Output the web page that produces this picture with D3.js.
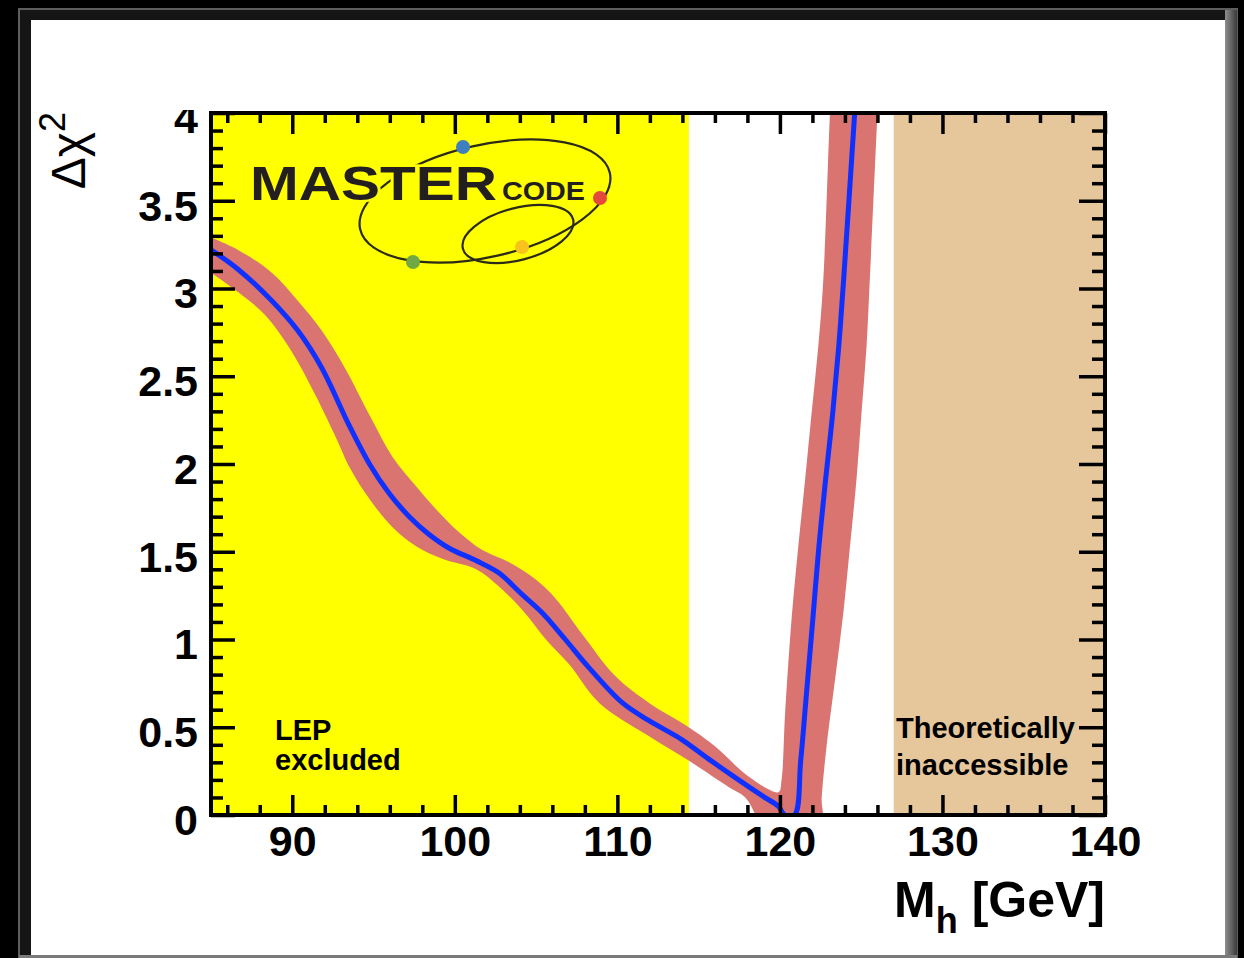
<!DOCTYPE html>
<html>
<head>
<meta charset="utf-8">
<script src="https://cdn.jsdelivr.net/npm/d3@7"></script>
<style>
  html, body { margin: 0; padding: 0; background: #000; }
  svg { display: block; }
  text { font-family: "Liberation Sans", Arial, Helvetica, sans-serif; }
</style>
</head>
<body>
<svg id="chart" width="1244" height="958"></svg>
<script>
/* global d3 */

// ---- data ----
var xTickValues = [90, 100, 110, 120, 130, 140];
var yTickValues = [0, 0.5, 1, 1.5, 2, 2.5, 3, 3.5, 4];

// shaded regions (GeV)
var regionNames = ['LEP excluded', 'Theoretically inaccessible'];
var regionFrom = [85, 127];
var regionTo = [114.4, 140];

// best fit curve: delta chi^2 vs M_h
var curveMass = [85.0, 86.66, 88.74, 90.34, 91.8, 93.5, 94.75, 95.98, 97.2, 98.4, 99.66, 101.3,
  102.7, 104.1, 105.4, 106.8, 108.25, 110.3, 111.9, 113.96, 115.6, 117.3, 118.9, 119.9, 120.3,
  120.9, 121.28, 121.65, 122.02, 122.38, 122.81, 123.25, 123.62, 123.92, 124.6, 124.67];
var curveChi2 = [3.22, 3.11, 2.93, 2.76, 2.55, 2.22, 2.0, 1.83, 1.70, 1.60, 1.52, 1.45,
  1.38, 1.26, 1.15, 1.0, 0.84, 0.64, 0.54, 0.43, 0.32, 0.21, 0.11, 0.05, 0.0,
  0.0, 0.31, 0.71, 1.11, 1.51, 1.91, 2.29, 2.67, 3.05, 4.0, 4.1];

// theory band, upper/left boundary
var bandUpperMass = [85.0, 86.66, 88.74, 90.34, 91.81, 93.22, 94.8, 96.17, 97.64, 98.87, 100.28,
  101.69, 103.34, 105.0, 106.23, 107.84, 109.89, 111.93, 114.39, 116.02, 118.07, 119.91,
  120.1, 120.32, 120.72, 121.13, 121.55, 121.95, 122.36, 122.67, 123.08, 123.2];
var bandUpperChi2 = [3.29, 3.22, 3.09, 2.93, 2.76, 2.55, 2.27, 2.04, 1.87, 1.74, 1.61,
  1.51, 1.44, 1.34, 1.23, 1.03, 0.79, 0.64, 0.50, 0.39, 0.22, 0.13,
  0.20, 0.58, 1.12, 1.53, 1.91, 2.29, 2.67, 3.05, 4.0, 4.2];

// theory band, lower/right boundary
var bandLowerMass = [85.0, 86.66, 88.31, 89.97, 91.38, 92.79, 93.53, 94.75, 96.17, 97.64, 99.23,
  101.32, 102.73, 104.14, 105.7, 107.02, 108.87, 111.93, 114.39, 116.84, 117.87, 118.48, 118.6,
  122.5, 122.57, 122.87, 123.39, 123.9, 124.31, 124.71, 125.02, 125.33, 125.53, 126.0, 126.1];
var bandLowerChi2 = [3.09, 2.98, 2.85, 2.64, 2.40, 2.13, 1.98, 1.80, 1.64, 1.53, 1.46,
  1.40, 1.30, 1.17, 0.99, 0.86, 0.64, 0.45, 0.31, 0.16, 0.10, 0.0, -0.05,
  -0.05, 0.10, 0.39, 0.77, 1.15, 1.53, 1.91, 2.29, 2.67, 3.05, 4.0, 4.2];

// ---- layout ----
var plot = { left: 211, top: 113, right: 1105, bottom: 815 };

var svg = d3.select('#chart');
var defs = svg.append('defs');

// 外枠（黒地にグレーの縁取り）
var grad = defs.append('linearGradient').attr('id', 'edgeGrad')
  .attr('x1', '0').attr('x2', '1').attr('y1', '0').attr('y2', '0');
grad.append('stop').attr('offset', '0').attr('stop-color', '#8e8e8e');
grad.append('stop').attr('offset', '1').attr('stop-color', '#3a3a3a');

svg.append('rect').attr('width', 1244).attr('height', 958).attr('fill', '#000');
svg.append('rect').attr('x', 19).attr('y', 9).attr('width', 1218).attr('height', 962)
  .attr('fill', '#151515').attr('stroke', '#5e5e5e').attr('stroke-width', 2);
svg.append('rect').attr('x', 1225).attr('y', 10).attr('width', 12).attr('height', 948)
  .attr('fill', 'url(#edgeGrad)');
svg.append('rect').attr('x', 31).attr('y', 20).attr('width', 1194).attr('height', 935)
  .attr('fill', '#fff');
svg.append('rect').attr('x', 19).attr('y', 955).attr('width', 1218).attr('height', 3)
  .attr('fill', '#7a7a7a');

var x = d3.scaleLinear().domain([85, 140]).range([plot.left, plot.right]);
var y = d3.scaleLinear().domain([0, 4]).range([plot.bottom, plot.top]);

defs.append('clipPath').attr('id', 'plotClip').append('rect')
  .attr('x', plot.left).attr('y', plot.top)
  .attr('width', plot.right - plot.left).attr('height', plot.bottom - plot.top);

// regions
var regionColors = ['#ffff00', '#e5c79b'];
svg.append('g').selectAll('rect')
  .data(regionNames)
  .enter()
  .append('rect')
  .attr('x', function(d, i) { return x(regionFrom[i]); })
  .attr('y', plot.top)
  .attr('width', function(d, i) { return x(regionTo[i]) - x(regionFrom[i]); })
  .attr('height', plot.bottom - plot.top)
  .attr('fill', function(d, i) { return regionColors[i]; });

// mastercode logo
var logo = svg.append('g');
logo.append('ellipse').attr('cx', 485).attr('cy', 201).attr('rx', 128).attr('ry', 56)
  .attr('transform', 'rotate(-12.8,485,201)')
  .attr('fill', 'none').attr('stroke', '#2b2a18').attr('stroke-width', 2.2);
logo.append('ellipse').attr('cx', 518).attr('cy', 234).attr('rx', 57).attr('ry', 26)
  .attr('transform', 'rotate(-15,518,234)')
  .attr('fill', 'none').attr('stroke', '#2b2a18').attr('stroke-width', 2.2);
logo.append('text').attr('x', 250).attr('y', 200)
  .attr('textLength', 247).attr('lengthAdjust', 'spacingAndGlyphs')
  .style('font-size', '49px').style('font-weight', 'bold')
  .attr('fill', '#231f20').attr('stroke', '#ffff00').attr('stroke-width', 5)
  .attr('paint-order', 'stroke')
  .text('MASTER');
logo.append('text').attr('x', 502).attr('y', 200)
  .attr('textLength', 83).attr('lengthAdjust', 'spacingAndGlyphs')
  .style('font-size', '25px').style('font-weight', 'bold')
  .attr('fill', '#231f20')
  .text('CODE');
var dots = [[463, 147, '#3f7fbf'], [600, 198, '#e5483c'], [413, 262, '#72a844'], [522, 247, '#f7c31c']];
logo.selectAll('circle').data(dots).enter().append('circle')
  .attr('cx', function(d) { return d[0]; })
  .attr('cy', function(d) { return d[1]; })
  .attr('r', 7)
  .attr('fill', function(d) { return d[2]; });

// band + curve
var lineGen = d3.line()
  .x(function(d) { return x(d[0]); })
  .y(function(d) { return y(d[1]); })
  .curve(d3.curveCatmullRom.alpha(0.5));

var upperPts = bandUpperMass.map(function(m, i) { return [m, bandUpperChi2[i]]; });
var lowerPts = bandLowerMass.map(function(m, i) { return [m, bandLowerChi2[i]]; }).reverse();
var bandPath = lineGen(upperPts) + lineGen(lowerPts).replace(/^M/, 'L') + 'Z';

var dataLayer = svg.append('g').attr('clip-path', 'url(#plotClip)');
dataLayer.append('path').attr('d', bandPath).attr('fill', '#d97470');
dataLayer.append('path')
  .datum(curveMass.map(function(m, i) { return [m, curveChi2[i]]; }))
  .attr('d', lineGen)
  .attr('fill', 'none')
  .attr('stroke', '#1030ff')
  .attr('stroke-width', 5)
  .attr('stroke-linejoin', 'round');

// region labels
function addLabel(lines, lx, ly, lh, size) {
  var t = svg.append('text').style('font-size', size + 'px').style('font-weight', 'bold').attr('fill', '#000');
  lines.forEach(function(s, i) {
    t.append('tspan').attr('x', lx).attr('y', ly + i * lh).text(s);
  });
}
addLabel(['LEP', 'excluded'], 275, 740, 30, 29);
addLabel(['Theoretically', 'inaccessible'], 896, 738, 37, 29);

// ---- axes (ticks on all four sides) ----
var xMinor = d3.range(86, 140, 2).filter(function(d) { return d % 10 !== 0; });
var yMinor = d3.range(1, 40).filter(function(d) { return d % 5 !== 0; }).map(function(d) { return d / 10; });

function drawAxis(parent, gen, tx, ty) {
  var g = parent.append('g').attr('transform', 'translate(' + tx + ',' + ty + ')').call(gen);
  g.select('.domain').remove();
  g.selectAll('.tick line').attr('stroke', '#000').attr('stroke-width', 3.5);
  g.selectAll('.tick text')
    .attr('fill', '#000')
    .style('font-family', '"Liberation Sans", Arial, sans-serif')
    .style('font-size', '43px')
    .style('font-weight', 'bold');
  return g;
}
var noLabel = function() { return ''; };

var axes = svg.append('g');
drawAxis(axes, d3.axisBottom(x).tickValues(xTickValues).tickSize(-20).tickPadding(10), 0, plot.bottom);
drawAxis(axes, d3.axisBottom(x).tickValues(xMinor).tickSize(-10).tickFormat(noLabel), 0, plot.bottom);
drawAxis(axes, d3.axisTop(x).tickValues(xTickValues).tickSize(-21).tickFormat(noLabel), 0, plot.top);
drawAxis(axes, d3.axisTop(x).tickValues(xMinor).tickSize(-10).tickFormat(noLabel), 0, plot.top);

defs.append('clipPath').attr('id', 'labelClip').append('rect')
  .attr('x', 0).attr('y', 110).attr('width', 1244).attr('height', 848);
var leftAxes = axes.append('g').attr('clip-path', 'url(#labelClip)');
var yLeft = drawAxis(leftAxes, d3.axisLeft(y).tickValues(yTickValues).tickSize(-24).tickPadding(13)
  .tickFormat(function(d) { return String(d); }), plot.left, 0);
yLeft.selectAll('.tick text').attr('dy', '0.45em');
drawAxis(axes, d3.axisLeft(y).tickValues(yMinor).tickSize(-12).tickFormat(noLabel), plot.left, 0);
drawAxis(axes, d3.axisRight(y).tickValues(yTickValues).tickSize(-26).tickFormat(noLabel), plot.right, 0);
drawAxis(axes, d3.axisRight(y).tickValues(yMinor).tickSize(-13).tickFormat(noLabel), plot.right, 0);

// frame
svg.append('rect')
  .attr('x', plot.left).attr('y', plot.top)
  .attr('width', plot.right - plot.left).attr('height', plot.bottom - plot.top)
  .attr('fill', 'none').attr('stroke', '#000').attr('stroke-width', 4);

// axis titles
var xTitle = svg.append('text')
  .attr('x', plot.right).attr('y', 917)
  .attr('text-anchor', 'end')
  .style('font-weight', 'bold').style('font-size', '50px').attr('fill', '#000');
xTitle.append('tspan').text('M');
xTitle.append('tspan').attr('dy', 16).style('font-size', '36px').text('h');
xTitle.append('tspan').attr('dy', -16).text('\u00a0[GeV]');

var yTitle = svg.append('text')
  .attr('transform', 'translate(85,112) rotate(-90)')
  .attr('text-anchor', 'end')
  .style('font-size', '48px').attr('fill', '#000');
yTitle.append('tspan').text('\u0394\u03c7');
yTitle.append('tspan').attr('dy', -20).style('font-size', '36px').text('2');
</script>
</body>
</html>
